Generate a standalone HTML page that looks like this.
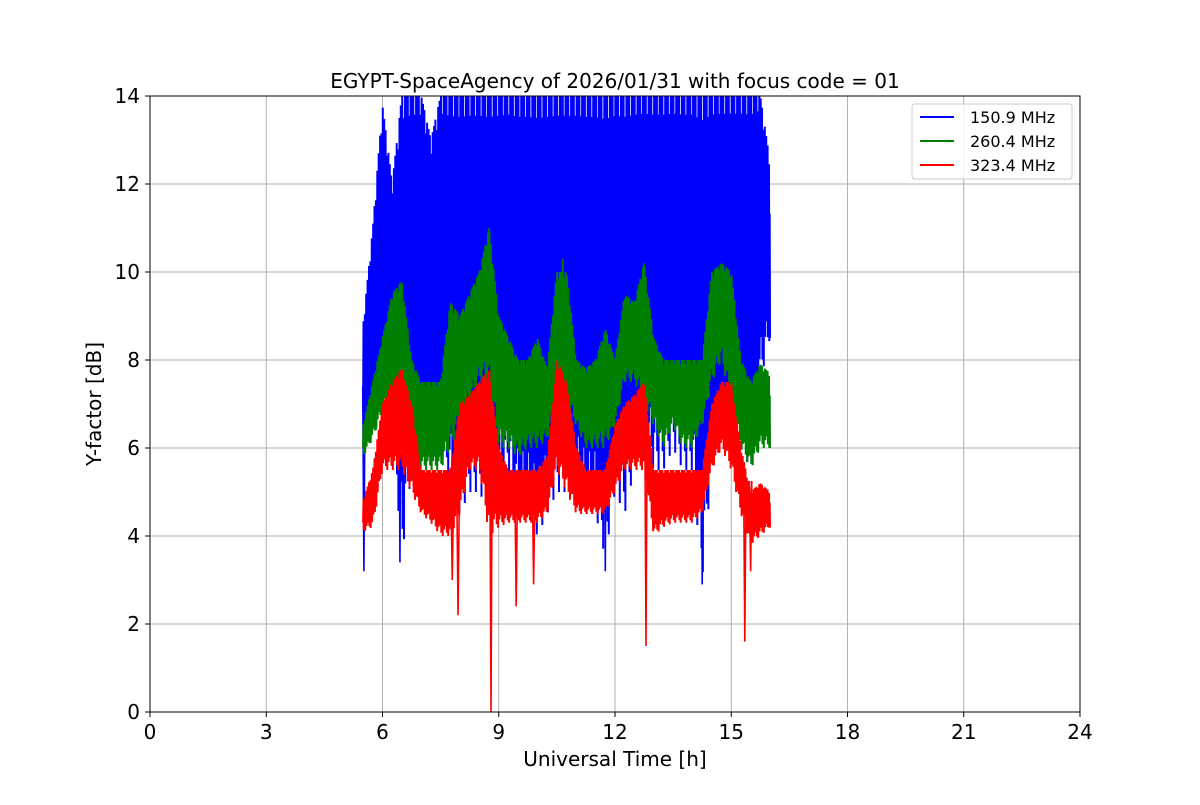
<!DOCTYPE html>
<html><head><meta charset="utf-8"><style>
body{margin:0;background:#fff;}
svg text{font-family:"DejaVu Sans","Liberation Sans",sans-serif;fill:#000;}
</style></head><body>
<svg id="chart" width="1200" height="800" viewBox="0 0 1200 800">
<rect width="1200" height="800" fill="#fff"/>
<g id="grid"></g>
<g id="series"></g>
<rect x="150" y="96" width="930" height="616" fill="none" stroke="#000" stroke-width="1"/>
<g id="ticks"></g>
<text x="615" y="88" font-size="20" text-anchor="middle">EGYPT-SpaceAgency of 2026/01/31 with focus code = 01</text>
<text x="615" y="766" font-size="20" text-anchor="middle">Universal Time [h]</text>
<text transform="translate(101,404) rotate(-90)" font-size="20" text-anchor="middle">Y-factor [dB]</text>
<g>
<rect x="912" y="104" width="160" height="75" rx="3" fill="#fff" fill-opacity="0.8" stroke="#ccc"/>
<g><line x1="920" y1="117" x2="954" y2="117" stroke="#0000ff" stroke-width="2"/><text x="970" y="123" font-size="16">150.9 MHz</text></g>
<g><line x1="920" y1="141" x2="954" y2="141" stroke="#008000" stroke-width="2"/><text x="970" y="147" font-size="16">260.4 MHz</text></g>
<g><line x1="920" y1="165" x2="954" y2="165" stroke="#ff0000" stroke-width="2"/><text x="970" y="171" font-size="16">323.4 MHz</text></g>
</g>
</svg>
<script>
const times=[5.5,5.75,6,6.25,6.5,6.75,7,7.25,7.5,7.75,8,8.25,8.5,8.75,9,9.25,9.5,9.75,10,10.25,10.5,10.75,11,11.25,11.5,11.75,12,12.25,12.5,12.75,13,13.25,13.5,13.75,14,14.25,14.5,14.75,15,15.25,15.5,15.75,16];
const blueLo=[6,6.5,6.5,6.5,3.5,5.5,5.5,6,6,5,4.5,5,5,4.5,5,5.5,4.5,4.5,4,4.5,5,5,5,4.5,4.5,3.5,5,4.5,5.5,6,5.5,5.5,6,5.5,5.5,3,5.5,6,6,6,5.5,7.5,8.5];
const blueHi=[8.8,11,13.8,12,14,14,14,13,14,14,14,14,14,14,14,14,14,14,14,14,14,14,14,14,14,14,14,14,14,14,14,14,14,14,14,14,14,14,14,14,14,14,12.5];
const greenLo=[5.8,6.2,6.8,7,7,6,5.5,5.5,5.5,6,6.5,7,7.5,7.5,6,6,5.8,6,6,6.2,7,7,6.5,6,6,6,6.5,7.5,7.5,7,6.5,6,6.5,6,6,6.5,7.5,8,7,6,5.5,6,6];
const greenHi=[6.5,7.5,8.5,9.5,9.8,8,7.5,7.5,7.5,9.3,9,9.5,10,11,9,8.5,8,8,8.5,7.8,10,10,8,7.8,8,8.7,8,9.5,9.3,10.2,8.5,8,8,8,8,8,10,10.2,10,8,7.5,7.9,7.7];
const redLo=[4.1,4.2,5.5,5.5,5.5,5,4.5,4.3,4,4,4.5,5.5,5.5,4,4.2,4.3,4.3,4.3,4.3,4.5,5.5,5,4.5,4.5,4.5,4.5,5,5.5,5.5,5.5,4,4.2,4.3,4.3,4.3,4.5,5.5,6,5.5,4.5,3.8,4,4.2];
const redHi=[4.8,5.5,7,7.5,7.8,7,5.5,5.5,5.5,5.5,7,7.2,7.5,7.8,6,5.5,5.5,5.5,5.5,5.8,8,7.5,6,5.5,5.5,5.5,6.5,7,7.2,7.5,5.5,5.5,5.5,5.5,5.5,5.5,7,7.5,7.5,6,5,5.2,5];
const blueSpikeT=[5.52,6.45,14.25,11.75];
const blueSpikeV=[3.2,3.4,2.9,3.2];
const greenSpikeT=[8.75,10.65,12.75];
const greenSpikeV=[11,10.3,10.2];
const redSpikeT=[8.8,7.95,9.45,12.8,15.35,9.9,7.8,15.5];
const redSpikeV=[0,2.2,2.4,1.5,1.6,2.9,3.0,3.2];
const xTicks=[0,3,6,9,12,15,18,21,24];
const yTicks=[0,2,4,6,8,10,12,14];

const X=t=>150+t*930/24, Y=v=>712-v*616/14;
const NS='http://www.w3.org/2000/svg';
const grid=document.getElementById('grid'),ticks=document.getElementById('ticks'),ser=document.getElementById('series');
function mk(tag,attrs,parent){const e=document.createElementNS(NS,tag);for(const k in attrs)e.setAttribute(k,attrs[k]);parent.appendChild(e);return e;}
xTicks.forEach(t=>{
 const g=mk('line',{x1:X(t),x2:X(t),y1:96,y2:712,stroke:'#b0b0b0','stroke-width':1},grid);
 
 
 mk('line',{x1:X(t),x2:X(t),y1:712,y2:717,stroke:'#000'},ticks);
 const l=mk('text',{x:X(t),y:739,'font-size':20,'text-anchor':'middle'},ticks);l.textContent=t;
 
 
});
yTicks.forEach(v=>{
 const g=mk('line',{x1:150,x2:1080,y1:Y(v),y2:Y(v),stroke:'#b0b0b0','stroke-width':1},grid);
 
 
 mk('line',{x1:145,x2:150,y1:Y(v),y2:Y(v),stroke:'#000'},ticks);
 const l=mk('text',{x:140,y:Y(v)+7,'font-size':20,'text-anchor':'end'},ticks);l.textContent=v;
 
 
});
const pattern=[0.3,1,0.05,0.85,0.2,0.95,0,0.7,0.4,1,0.1,0.9,0.55,1,0.15,0.8];
function band(lo,hi,color,name,spT,spV){
 const pts=[];const n=times.length;
 for(let i=0;i<n-1;i++){
  const steps=28;
  for(let s=0;s<steps;s++){
   const f=s/steps,t=times[i]+f*(times[i+1]-times[i]);
   const l=lo[i]+(lo[i+1]-lo[i])*f,h=hi[i]+(hi[i+1]-hi[i])*f;
   const p=pattern[(i*steps+s)%pattern.length];
   pts.push(X(t).toFixed(1)+','+Y(l+(h-l)*p).toFixed(1));
  }
 }
 pts.push(X(times[n-1]).toFixed(1)+','+Y(lo[n-1]).toFixed(1));
 const pl=mk('polyline',{points:pts.join(' '),fill:'none',stroke:color,'stroke-width':2},ser);
 
 
 spT.forEach((t,k)=>{
  let i=0;while(i<times.length-2&&times[i+1]<t)i++;
  const base=(lo[i]+hi[i])/2;
  const sp=mk('polyline',{points:`${X(t-0.03)},${Y(base)} ${X(t)},${Y(spV[k])} ${X(t+0.03)},${Y(base)}`,fill:'none',stroke:color,'stroke-width':1.6},ser);
  
  
 });
}
band(blueLo,blueHi,'#0000ff','series-150-9-mhz',blueSpikeT,blueSpikeV);
band(greenLo,greenHi,'#008000','series-260-4-mhz',greenSpikeT,greenSpikeV);
band(redLo,redHi,'#ff0000','series-323-4-mhz',redSpikeT,redSpikeV);
</script>
</body></html>
